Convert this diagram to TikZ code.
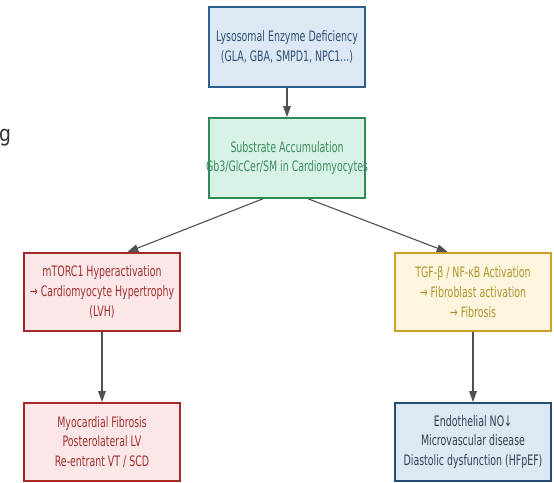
\documentclass[tikz,border=0pt]{standalone}
\usepackage{fontspec}
\setmainfont{DejaVu Sans}[FakeStretch=0.655]
\newfontfamily\fragfont{DejaVu Sans}[FakeStretch=0.85]
\usetikzlibrary{arrows.meta,calc}
\definecolor{bluefill}{HTML}{DCE9F5}
\definecolor{blueline}{HTML}{2F5F8E}
\definecolor{bluetext}{HTML}{2E4F73}
\definecolor{slatetext}{HTML}{2F4050}
\definecolor{greenfill}{HTML}{D8F2E6}
\definecolor{greenline}{HTML}{2E8B57}
\definecolor{greentext}{HTML}{3C8C62}
\definecolor{redfill}{HTML}{FBE7E7}
\definecolor{redline}{HTML}{A82828}
\definecolor{redtext}{HTML}{A33030}
\definecolor{yellowfill}{HTML}{FDF5DE}
\definecolor{yellowline}{HTML}{C9A227}
\definecolor{yellowtext}{HTML}{AE942C}
\definecolor{arrowgray}{HTML}{505050}
\newcommand\zerow[1]{\makebox[0pt][c]{#1}}
\tikzset{
  box/.style={rectangle, draw, line width=1.7pt, minimum width=156pt, minimum height=80pt,
    inner sep=0pt, align=center, font=\fontsize{14.4}{19.6}\selectfont},
  bluebox/.style={box, fill=bluefill, draw=blueline, text=bluetext},
  darkbluebox/.style={box, fill=bluefill, draw=blueline!80!black, text=slatetext},
  greenbox/.style={box, fill=greenfill, draw=greenline, text=greentext},
  redbox/.style={box, fill=redfill, draw=redline, text=redtext},
  yellowbox/.style={box, fill=yellowfill, draw=yellowline, text=yellowtext},
  conn/.style={draw=arrowgray, line width=1.1pt, -{Triangle[length=11pt,width=7.5pt]}, arrowgray}
}
\begin{document}
\begin{tikzpicture}[x=1pt,y=-1pt]
\useasboundingbox (0,0) rectangle (554,482);
\node[font=\fragfont\fontsize{22}{26}\selectfont, text=black!80, anchor=base west, inner sep=0pt] (frag) at (-1,141) {g};
\node[bluebox] (b1) at (287,47) {Lysosomal Enzyme Deficiency\\(GLA, GBA, SMPD1, NPC1...)};
\node[greenbox] (b2) at (287,158) {\zerow{Substrate Accumulation}\\\zerow{Gb3/GlcCer/SM in Cardiomyocytes}};
\node[redbox, minimum height=78pt] (b3) at (102,292) {mTORC1 Hyperactivation\\→ Cardiomyocyte Hypertrophy\\(LVH)};
\node[yellowbox, minimum height=78pt] (b4) at (473,292) {TGF-β / NF-κB Activation\\→ Fibroblast activation\\→ Fibrosis};
\node[redbox, minimum height=78pt] (b5) at (102,442) {Myocardial Fibrosis\\Posterolateral LV\\Re-entrant VT / SCD};
\node[darkbluebox, minimum height=78pt] (b6) at (473,442) {Endothelial NO↓\\Microvascular disease\\Diastolic dysfunction (HFpEF)};
\draw[conn] (b1.south) -- (b2.north);
\draw[conn] ($(b2.south west)!0.346!(b2.south east)$) -- ($(b3.north west)!0.66!(b3.north east)$);
\draw[conn] ($(b2.south west)!0.635!(b2.south east)$) -- ($(b4.north west)!0.34!(b4.north east)$);
\draw[conn] (b3.south) -- (b5.north);
\draw[conn] (b4.south) -- (b6.north);
\end{tikzpicture}
\end{document}
